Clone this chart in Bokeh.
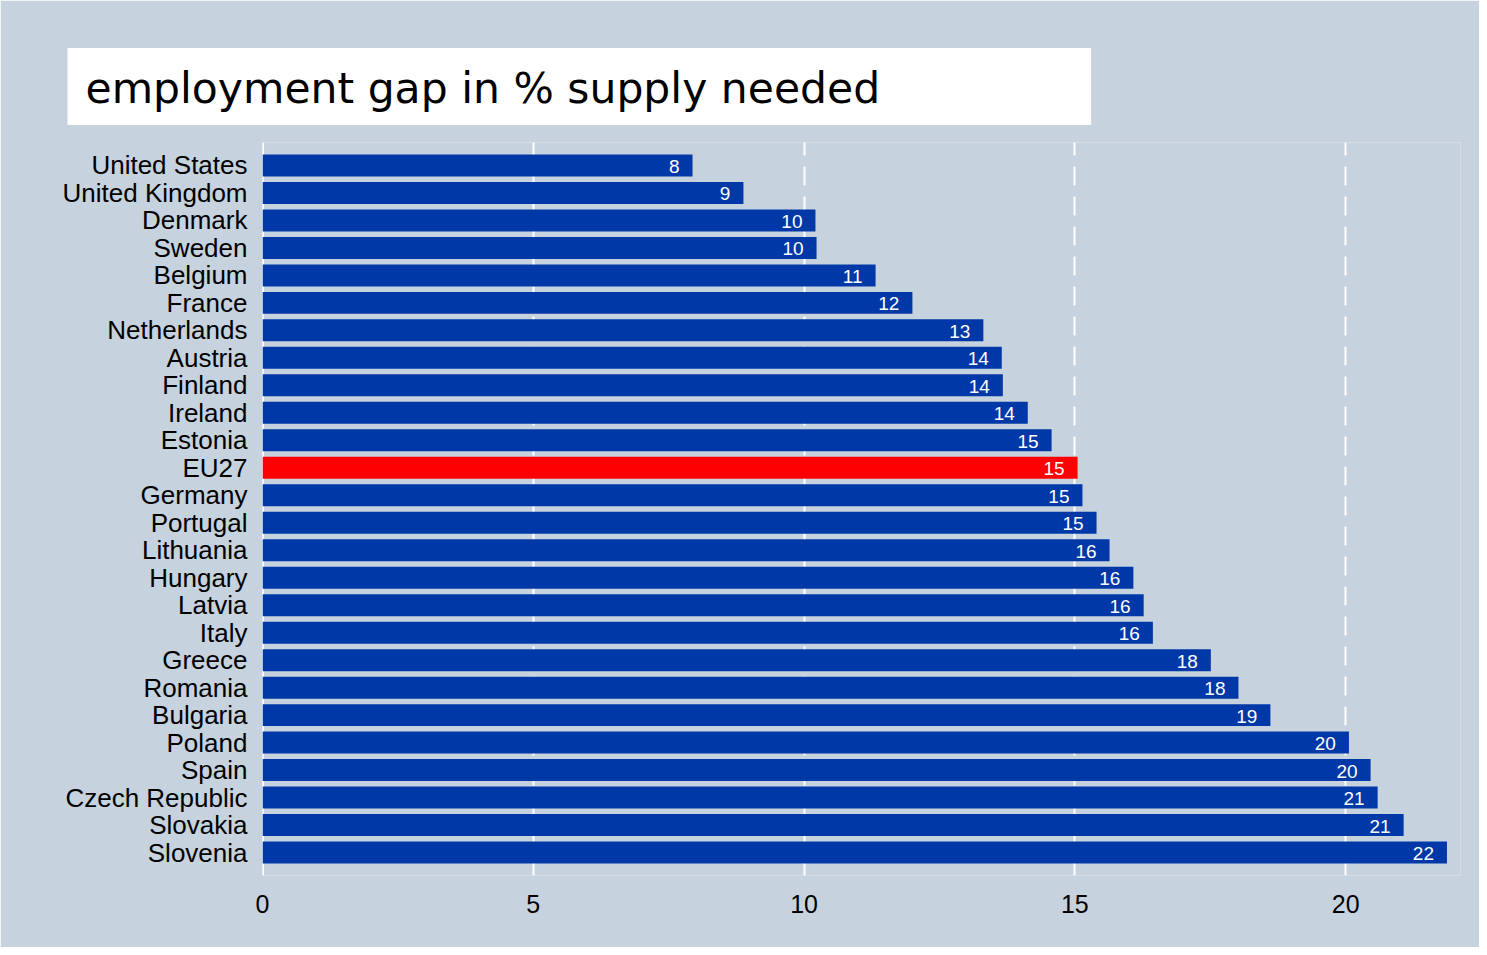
from bokeh.plotting import figure
from bokeh.models import ColumnDataSource, FactorRange, Range1d, FixedTicker, Span, Title
from bokeh.embed import file_html
from bokeh.resources import INLINE
from bokeh.core.properties import value

countries = ["United States", "United Kingdom", "Denmark", "Sweden", "Belgium", "France",
             "Netherlands", "Austria", "Finland", "Ireland", "Estonia", "EU27", "Germany",
             "Portugal", "Lithuania", "Hungary", "Latvia", "Italy", "Greece", "Romania",
             "Bulgaria", "Poland", "Spain", "Czech Republic", "Slovakia", "Slovenia"]
values = [7.94, 8.88, 10.21, 10.23, 11.32, 12.00, 13.31, 13.65, 13.67, 14.13, 14.57, 15.05,
          15.14, 15.40, 15.64, 16.08, 16.27, 16.44, 17.51, 18.02, 18.61, 20.06, 20.46, 20.59,
          21.07, 21.87]
x_ticks = [0, 5, 10, 15, 20]
title_text = "employment gap in % supply needed"

BG = "#C6D2DE"
BLUE = "#0038A8"
RED = "#FF0000"

colors = [RED if c == "EU27" else BLUE for c in countries]
labels = [f"{v:.0f}" for v in values]
src = ColumnDataSource(dict(country=countries, value=values, color=colors, label=labels))

p = figure(width=1479, height=947, y_range=FactorRange(factors=list(reversed(countries)),
           range_padding=0.335, range_padding_units="absolute"),
           x_range=Range1d(0, 22.12), toolbar_location=None, output_backend="svg",
           min_border_left=262, min_border_right=19, min_border_top=142, min_border_bottom=72)
p.background_fill_color = BG
p.border_fill_color = BG
p.outline_line_color = None

p.ygrid.visible = False
p.xgrid.ticker = FixedTicker(ticks=[t_ for t_ in x_ticks if t_ != 0])
p.xgrid.grid_line_color = "white"
p.xgrid.grid_line_width = 2
p.xgrid.grid_line_dash = "19 11"
p.add_layout(Span(location=0, dimension="height", line_color="white", line_width=3, level="underlay"))

p.hbar(y="country", left=0, right="value", height=0.8, fill_color="color", line_color=None, source=src)
p.text(x="value", y="country", text="label", source=src, text_align="right", text_baseline="middle",
       x_offset=-13, y_offset=1, text_color="white", text_font=value("Liberation Sans"),
       text_font_size="19px")

title = Title(text=title_text, align="left", offset=-195, standoff=35,
              text_font="DejaVu Sans", text_font_size="42.5px", text_font_style="normal",
              text_color="black", background_fill_color="white",
              padding=dict(left=18, right=211, top=16, bottom=12))
p.add_layout(title, "above")

p.xaxis.ticker = FixedTicker(ticks=x_ticks)
for ax in (p.xaxis[0], p.yaxis[0]):
    ax.axis_line_color = None
    ax.major_tick_line_color = None
    ax.minor_tick_line_color = None
    ax.major_tick_in = 0
    ax.major_tick_out = 0
    ax.major_label_text_font = "Liberation Sans"
    ax.major_label_text_color = "black"
p.xaxis.major_label_text_font_size = "25px"
p.yaxis.major_label_text_font_size = "26px"
p.xaxis.major_label_standoff = 19
p.yaxis.major_label_standoff = 15

open("out.html", "w").write(file_html(p, INLINE))
